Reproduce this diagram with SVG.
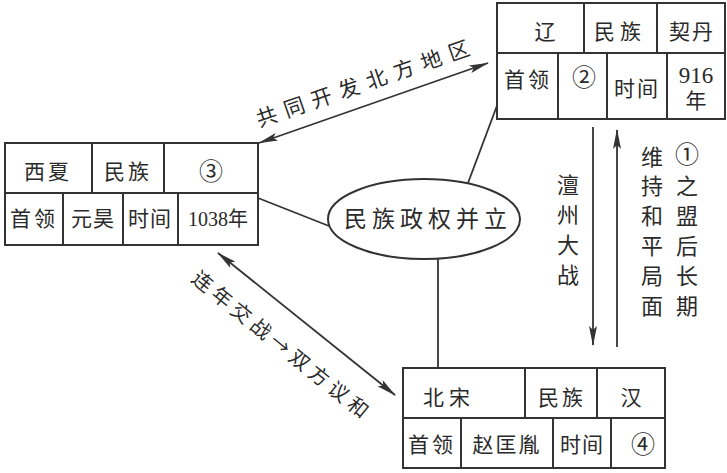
<svg xmlns="http://www.w3.org/2000/svg" width="727" height="473" viewBox="0 0 727 473">
<defs>
<marker id="ah" viewBox="0 0 20 8" refX="19" refY="4" markerWidth="20" markerHeight="8" markerUnits="userSpaceOnUse" orient="auto-start-reverse">
<path d="M0,0 L20,4 L0,8 L4,4 Z" fill="#333"/>
</marker>
<style>
.box{fill:#fff;stroke:#333;stroke-width:2}
.div{stroke:#333;stroke-width:2}
.ln{stroke:#333;stroke-width:1.8;fill:none}
.t{font-family:"Liberation Serif","Noto Sans CJK SC",serif;font-size:21px;fill:#2a2a2a;text-anchor:middle;dominant-baseline:central}
.c{font-family:"Noto Sans CJK SC",sans-serif}
</style>
</defs>
<rect width="727" height="473" fill="#fff"/>
<g id="connectors">
<line class="ln" x1="498" y1="103" x2="468" y2="183"/>
<line class="ln" x1="258" y1="198" x2="329" y2="226"/>
<line class="ln" x1="438" y1="259" x2="438" y2="368"/>
<line class="ln" x1="259" y1="143" x2="488" y2="63" marker-start="url(#ah)" marker-end="url(#ah)"/>
<line class="ln" x1="218" y1="253" x2="395" y2="395" marker-start="url(#ah)" marker-end="url(#ah)"/>
<line class="ln" x1="593" y1="127" x2="593" y2="345" marker-end="url(#ah)"/>
<line class="ln" x1="617" y1="130" x2="617" y2="347" marker-start="url(#ah)"/>
<text class="t c" transform="translate(366,81) rotate(-19)" style="letter-spacing:8px">共同开发北方地区</text>
<text class="t c" transform="translate(283,345) rotate(39)" style="font-size:20px;letter-spacing:5px">连年交战→双方议和</text>
<g class="t c" style="font-size:22px">
<text x="568" y="183">澶</text><text x="568" y="213">州</text><text x="568" y="243">大</text><text x="568" y="273">战</text>
<text x="652" y="155">维</text><text x="652" y="184">持</text><text x="652" y="214">和</text><text x="652" y="244">平</text><text x="652" y="274">局</text><text x="652" y="304">面</text>
<text x="687" y="155" class="t" style="font-size:24px">①</text><text x="687" y="184">之</text><text x="687" y="214">盟</text><text x="687" y="244">后</text><text x="687" y="274">长</text><text x="687" y="304">期</text>
</g>
</g>
<g id="liao">
<rect class="box" x="497" y="3" width="228" height="116"/>
<line class="div" x1="497" y1="53" x2="725" y2="53"/>
<line class="div" x1="584" y1="3" x2="584" y2="53"/>
<line class="div" x1="657" y1="3" x2="657" y2="53"/>
<line class="div" x1="558" y1="53" x2="558" y2="119"/>
<line class="div" x1="607" y1="53" x2="607" y2="119"/>
<line class="div" x1="667" y1="53" x2="667" y2="119"/>
<text class="t" x="545" y="32">辽</text>
<text class="t" x="620" y="32" style="letter-spacing:5px">民族</text>
<text class="t" x="692" y="32" style="letter-spacing:2px">契丹</text>
<text class="t" x="528" y="80" style="letter-spacing:3px">首领</text>
<text class="t" x="584" y="78" style="font-size:24px">②</text>
<text class="t" x="637" y="89" style="letter-spacing:2px">时间</text>
<text class="t" x="696" y="75" style="font-size:23px">916</text>
<text class="t" x="696" y="101">年</text>
</g>
<g id="xixia">
<rect class="box" x="5" y="143" width="253" height="102"/>
<line class="div" x1="5" y1="193" x2="258" y2="193"/>
<line class="div" x1="92" y1="143" x2="92" y2="193"/>
<line class="div" x1="164" y1="143" x2="164" y2="193"/>
<line class="div" x1="63" y1="193" x2="63" y2="245"/>
<line class="div" x1="123" y1="193" x2="123" y2="245"/>
<line class="div" x1="178" y1="193" x2="178" y2="245"/>
<text class="t" x="48" y="172" style="letter-spacing:3px">西夏</text>
<text class="t" x="128" y="172" style="letter-spacing:3px">民族</text>
<text class="t" x="211" y="172" style="font-size:24px">③</text>
<text class="t" x="34" y="219" style="letter-spacing:3px">首领</text>
<text class="t" x="93" y="219" style="letter-spacing:1px">元昊</text>
<text class="t" x="150" y="219" style="letter-spacing:1px">时间</text>
<text class="t" x="218" y="219" style="font-size:20px">1038年</text>
</g>
<g id="song">
<rect class="box" x="403" y="368" width="262" height="100"/>
<line class="div" x1="403" y1="418" x2="665" y2="418"/>
<line class="div" x1="525" y1="368" x2="525" y2="418"/>
<line class="div" x1="597" y1="368" x2="597" y2="418"/>
<line class="div" x1="461" y1="418" x2="461" y2="468"/>
<line class="div" x1="553" y1="418" x2="553" y2="468"/>
<line class="div" x1="611" y1="418" x2="611" y2="468"/>
<text class="t" x="449" y="398" style="letter-spacing:5px">北宋</text>
<text class="t" x="562" y="398" style="letter-spacing:3px">民族</text>
<text class="t" x="631" y="398">汉</text>
<text class="t" x="432" y="445" style="letter-spacing:3px">首领</text>
<text class="t" x="507" y="445" style="letter-spacing:2px">赵匡胤</text>
<text class="t" x="582" y="445" style="letter-spacing:1px">时间</text>
<text class="t" x="643" y="445" style="font-size:24px">④</text>
</g>
<g id="center">
<ellipse cx="424" cy="219" rx="96" ry="40" fill="#fff" stroke="#333" stroke-width="2"/>
<text class="t" x="428" y="219" style="font-size:23px;letter-spacing:5px">民族政权并立</text>
</g>
</svg>
